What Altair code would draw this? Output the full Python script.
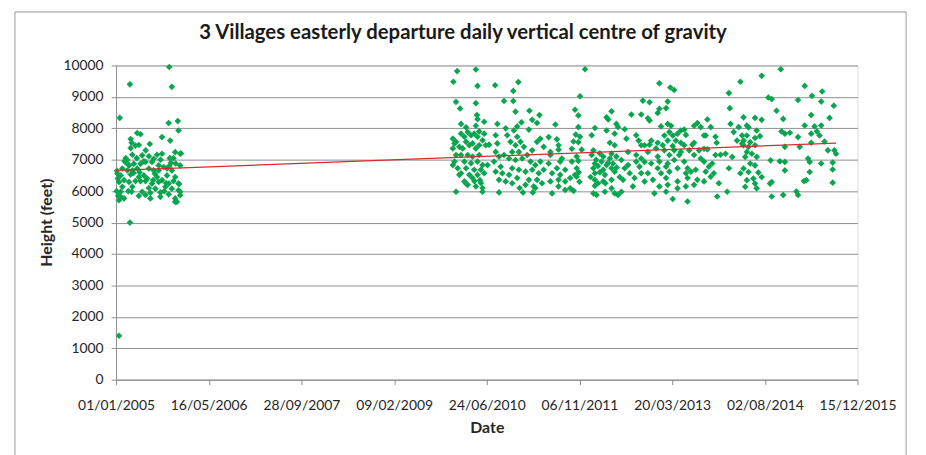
import altair as alt
import pandas as pd

# ---- data (day = days since 01/01/2005, height in feet) ----
obs_2005 = [
    (16, 1400), (75, 5000), (20, 8330), (75, 9400), (287, 9950), (301, 9320), (284, 8170), (333, 8230),
    (337, 7930), (114, 7850), (132, 7810), (248, 7720), (79, 7660), (182, 7500), (84, 7540), (123, 7470),
    (105, 7450), (79, 7370), (292, 7610), (319, 7240), (346, 7190), (88, 7160), (141, 7140), (177, 7110),
    (221, 7160), (248, 7190), (203, 7030), (55, 6910), (70, 6820), (96, 6870), (132, 6870), (159, 6930),
    (194, 6930), (230, 6820), (257, 6770), (287, 6800), (346, 6820), (34, 6720), (61, 6660), (88, 6660),
    (114, 6720), (177, 6720), (203, 6660), (230, 6660), (275, 6720), (301, 6660), (7, 6560), (25, 6500),
    (79, 6530), (123, 6450), (150, 6500), (168, 6400), (221, 6450), (248, 6350), (275, 6500), (319, 6450),
    (43, 6350), (16, 6290), (70, 6290), (105, 6320), (132, 6320), (159, 6320), (194, 6240), (230, 6290),
    (284, 6240), (310, 6320), (337, 6240), (266, 6140), (34, 6140), (88, 6140), (177, 6100), (212, 6080),
    (301, 6080), (337, 6030), (25, 5980), (84, 5980), (141, 5980), (185, 5950), (239, 5960), (284, 5900),
    (346, 5980), (25, 5820), (43, 5770), (123, 5850), (159, 5880), (185, 5770), (239, 5820), (319, 5770),
    (328, 5660), (16, 5710), (346, 5870), (319, 5660), (5, 6650), (10, 6400), (3, 6000), (12, 5850),
    (52, 7050), (60, 7000), (150, 6950), (200, 6350), (260, 6000), (270, 6250), (296, 6900), (310, 7050),
    (340, 6230), (160, 7300), (240, 7000), (112, 7050), (46, 6950), (66, 6000), (210, 6550), (127, 6600),
    (95, 6580), (290, 7050), (322, 6880), (350, 7200),
]

obs_2010 = [
    (1840, 9820), (1941, 9870), (1820, 9480), (1950, 9350), (2045, 9370), (2170, 9470), (2143, 9190),
    (1834, 8840), (1941, 8800), (2093, 8870), (2143, 8870), (1856, 8630), (2155, 8530), (1947, 8420),
    (2230, 8560), (2284, 8420), (1950, 8290), (1861, 8140), (1986, 8210), (2057, 8140), (2245, 8270),
    (2271, 8170), (1888, 8030), (1941, 8080), (2102, 8000), (2164, 8060), (2187, 8190), (2227, 7960),
    (1817, 7670), (1826, 7520), (1817, 7360), (1834, 7150), (1826, 6940), (1843, 6730), (1817, 6830),
    (1861, 7830), (1879, 7730), (1897, 7880), (1915, 7780), (1932, 7830), (1950, 7730), (1888, 7570),
    (1906, 7460), (1923, 7520), (1870, 7360), (1941, 7360), (1959, 7460), (1977, 7620), (1995, 7460),
    (2012, 7480), (1897, 7150), (1861, 7150), (1923, 7100), (1959, 7150), (1879, 6940), (1915, 6890),
    (1950, 6940), (1977, 6830), (1888, 6730), (1932, 6680), (1968, 6680), (2004, 6830), (1861, 6570),
    (1906, 6520), (1950, 6520), (1986, 6570), (1879, 6310), (1923, 6420), (1968, 6260), (1897, 6200),
    (1941, 6150), (1852, 6520), (1834, 7570), (1852, 7410), (1959, 7900), (1986, 7830),
    (2048, 7780), (2057, 7520), (2048, 7250), (2066, 7100), (2039, 6940), (2075, 6780), (2048, 6620),
    (2084, 6570), (2093, 7150), (2066, 6360), (2102, 6310),
    (2110, 7780), (2128, 7570), (2146, 7930), (2164, 7730), (2155, 7460), (2182, 7570), (2137, 7250),
    (2173, 7250), (2200, 7410), (2120, 7040), (2155, 6990), (2191, 7040), (2218, 7150), (2245, 7300),
    (2271, 7570), (2289, 7670), (2307, 7410), (2236, 6940), (2262, 6830), (2289, 6940), (2137, 6730),
    (2173, 6680), (2209, 6620), (2245, 6680), (2280, 6570), (2307, 6680), (2120, 6520), (2164, 6420),
    (2227, 6360), (2271, 6360), (2298, 6250), (2209, 6200), (2253, 6150), (2137, 6250),
    (1834, 5980), (1977, 5980), (2066, 5960), (2177, 6100), (2195, 5960), (2248, 5960), (2262, 6100),
    (1888, 6240), (1933, 6320), (1977, 6100), (1963, 6350),
]

obs_2011 = [
    (2530, 9880), (2503, 9020), (2476, 8590), (2494, 8410), (2646, 8350), (2673, 8540), (2655, 8280),
    (2370, 8120), (2494, 8040), (2583, 8010), (2699, 8140), (2708, 8040), (2780, 8440), (2833, 8440),
    (2842, 8880), (2744, 7970), (2806, 7780), (2480, 7800), (2503, 7730), (2566, 7780), (2646, 7930),
    (2690, 7830), (2753, 7670), (2334, 7720), (2378, 7650), (2468, 7580), (2494, 7560), (2664, 7540),
    (2690, 7460), (2387, 7460), (2819, 7610), (2833, 7460), (2343, 7250), (2387, 7320), (2459, 7350),
    (2512, 7320), (2575, 7300), (2673, 7190), (2762, 7250), (2806, 7150), (2343, 7150), (2405, 7040),
    (2485, 7100), (2566, 7150), (2628, 7100), (2664, 7040), (2699, 7100), (2726, 6990), (2833, 7040),
    (2334, 6880), (2396, 6940), (2459, 6940), (2494, 6960), (2583, 6880), (2619, 6940), (2646, 6830),
    (2681, 6880), (2762, 6830), (2806, 6940), (2378, 6730), (2423, 6680), (2485, 6730), (2575, 6730),
    (2628, 6680), (2673, 6730), (2744, 6730), (2824, 6780), (2352, 6570), (2396, 6520), (2476, 6520),
    (2583, 6570), (2637, 6520), (2690, 6620), (2771, 6570), (2833, 6570), (2387, 6360), (2450, 6420),
    (2583, 6360), (2628, 6310), (2673, 6360), (2735, 6360), (2797, 6420), (2343, 6310), (2423, 6310),
    (2485, 6460), (2387, 6150), (2450, 6090), (2583, 6170), (2673, 6090), (2788, 6150), (2352, 5930),
    (2423, 6040), (2468, 6010), (2575, 5930), (2592, 5880), (2637, 5980), (2690, 5930), (2708, 5880),
    (2726, 5980), (2600, 6800), (2610, 6600), (2655, 6900), (2700, 6750), (2717, 6450), (2590, 7000),
    (2640, 6250), (2600, 6250), (2560, 6450), (2610, 7200), (2496, 6600), (2500, 6300),
]

obs_2013 = [
    (2931, 9430), (2990, 9300), (3011, 9220), (3368, 9480), (3306, 9120), (2878, 8830), (2976, 8850),
    (2931, 8620), (2967, 8640), (3311, 8640), (2922, 8490), (2869, 8320), (2878, 8250), (3315, 8140),
    (2940, 8060), (2976, 8140), (2994, 8080), (3136, 8170), (3190, 8280), (3118, 8080), (3154, 8040),
    (3208, 8040), (3047, 7930), (3065, 7960), (2985, 7880), (3029, 7830), (3359, 8040), (3332, 7880),
    (2958, 7770), (3003, 7770), (3074, 7790), (3172, 7770), (3234, 7730), (3377, 7770), (2887, 7610),
    (2922, 7540), (2976, 7610), (3020, 7610), (3047, 7540), (3118, 7540), (3181, 7770), (3240, 7540),
    (3350, 7610), (2851, 7460), (2878, 7480), (2949, 7460), (3003, 7440), (3065, 7460), (3109, 7480),
    (3172, 7350), (3377, 7510), (2869, 7250), (2913, 7360), (2958, 7300), (3011, 7300), (3047, 7250),
    (3092, 7300), (3145, 7300), (3190, 7330), (3234, 7150), (3261, 7160), (3288, 7190), (2922, 7100),
    (2985, 7150), (3038, 7150), (3118, 7150), (3154, 7040), (2851, 6930), (2887, 6880), (2931, 6940),
    (2976, 6880), (3011, 6990), (3065, 6940), (3172, 6940), (3216, 6880), (3324, 7090), (2922, 6730),
    (2967, 6780), (3029, 6730), (3083, 6730), (3127, 6680), (3198, 6780), (3306, 6730), (2869, 6570),
    (2940, 6570), (2985, 6620), (3074, 6570), (3101, 6620), (3181, 6620), (3225, 6570), (2896, 6360),
    (2967, 6420), (3029, 6310), (3083, 6420), (3136, 6360), (3208, 6460), (3252, 6250), (3368, 6570),
    (2851, 6310), (2931, 6150), (2976, 6200), (3074, 6150), (3118, 6200), (3172, 6310), (2904, 5930),
    (2967, 5980), (3029, 6090), (3003, 5750), (3083, 5670), (3243, 5830), (3297, 5980),
]

obs_2014 = [
    (3586, 9880), (3483, 9670), (3715, 9350), (3809, 9170), (3519, 8980), (3537, 8930), (3679, 8900),
    (3754, 9030), (3804, 8850), (3872, 8720), (3563, 8560), (3599, 8300), (3750, 8420), (3849, 8330),
    (3385, 8350), (3447, 8330), (3483, 8270), (3403, 8090), (3456, 7930), (3412, 8030), (3715, 8090),
    (3768, 8060), (3804, 8090), (3781, 7900), (3590, 7900), (3608, 7830), (3635, 7860), (3750, 7830),
    (3795, 7770), (3474, 7750), (3447, 7690), (3403, 7770), (3385, 7610), (3421, 7560), (3679, 7720),
    (3385, 7460), (3412, 7410), (3447, 7460), (3608, 7410), (3688, 7410), (3750, 7540), (3822, 7580),
    (3840, 7300), (3875, 7300), (3884, 7190), (3403, 7250), (3430, 7190), (3456, 7090), (3394, 7090),
    (3531, 6980), (3581, 6950), (3608, 6930), (3733, 7040), (3804, 6880), (3866, 6910), (3421, 6880),
    (3447, 6820), (3608, 6660), (3742, 6930), (3866, 6690), (3385, 6720), (3412, 6610), (3465, 6590),
    (3742, 6610), (3483, 6450), (3403, 6350), (3438, 6400), (3724, 6350), (3447, 6240), (3866, 6270),
    (3537, 6290), (3528, 6240), (3394, 6140), (3456, 6090), (3711, 6320), (3670, 5990), (3679, 5880),
    (3537, 5830), (3599, 5880),
]

# linear trend line (end points)
trend_days = [0, 3884]
trend_height = [6660, 7530]

tick_days = [0, 500, 1000, 1500, 2000, 2500, 3000, 3500, 4000]
y_ticks = [0, 1000, 2000, 3000, 4000, 5000, 6000, 7000, 8000, 9000, 10000]

all_obs = obs_2005 + obs_2010 + obs_2011 + obs_2013 + obs_2014
df = pd.DataFrame(all_obs, columns=["day", "height"])
trend = pd.DataFrame({"day": trend_days, "height": trend_height})

FONT = "Lato"
GRID = "#8f8f8f"
TXT = "#262626"

x_enc = alt.X(
    "day:Q",
    scale=alt.Scale(domain=[0, 4000], nice=False, zero=False),
    axis=alt.Axis(
        values=tick_days,
        labelExpr="utcFormat(utc(2005, 0, 1) + datum.value * 86400000, '%d/%m/%Y')",
        title="Date", grid=False, tickSize=5, tickColor=GRID, domainColor=GRID,
        labelFont=FONT, labelFontSize=14, labelColor=TXT, labelPadding=14,
        labelFlush=False, labelOverlap=False,
        titleFont=FONT, titleFontSize=16, titleFontWeight="bold", titleColor=TXT,
        titleY=48, titleBaseline="middle",
    ),
)
y_enc = alt.Y(
    "height:Q",
    scale=alt.Scale(domain=[0, 10000], nice=False),
    axis=alt.Axis(
        values=y_ticks, format="d", grid=True, gridColor=GRID, gridWidth=1,
        tickSize=5, tickColor=GRID, domainColor=GRID, labelOverlap=False,
        labelFont=FONT, labelFontSize=14, labelColor=TXT, labelPadding=8,
        title="Height (feet)", titleFont=FONT, titleFontSize=16, titleFontWeight="bold",
        titleColor=TXT, titleX=-70, titleY=158, titleBaseline="middle", titleAlign="center",
    ),
)

frame = alt.Chart(pd.DataFrame({"k": [0]})).mark_rect(
    fill="transparent", stroke="#9a9a9a", strokeWidth=1
).encode(x=alt.value(-102), x2=alt.value(797), y=alt.value(-54), y2=alt.value(470))

points = alt.Chart(df).mark_point(
    shape="diamond", filled=True, size=45, color="#0aa64f", opacity=1
).encode(x=x_enc, y=y_enc)

line = alt.Chart(trend).mark_line(color="#d92b2b", strokeWidth=1.2).encode(
    x=x_enc, y=y_enc
)

chart = alt.layer(frame, points, line).properties(
    width=748,
    height=317,
    autosize=alt.AutoSizeParams(type="none"),
    padding={"left": 109, "top": 56, "right": 61, "bottom": 74},
    title=alt.TitleParams(
        "3 Villages easterly departure daily vertical centre of gravity",
        font=FONT, fontSize=20.5, fontWeight="bold", color="#1a1a1a",
        anchor="middle", frame="group", dx=-24, offset=-32,
    ),
).configure_view(stroke=None).configure(background="white")

chart.save("out.html", embed_options={"renderer": "svg", "actions": False})
